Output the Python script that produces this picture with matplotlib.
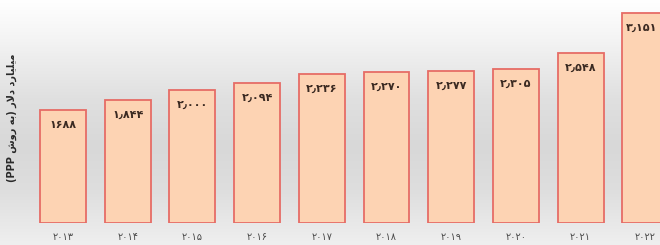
import numpy as np
import matplotlib
matplotlib.use("Agg")
import matplotlib.pyplot as plt
from matplotlib.colors import LinearSegmentedColormap

# داده‌ها (میلیارد دلار، به روش PPP)
years = ["۲۰۱۳", "۲۰۱۴", "۲۰۱۵", "۲۰۱۶", "۲۰۱۷",
         "۲۰۱۸", "۲۰۱۹", "۲۰۲۰", "۲۰۲۱", "۲۰۲۲"]
values = [1688, 1844, 2000, 2094, 2236, 2270, 2277, 2305, 2548, 3151]
value_labels = ["۱۶۸۸", "۱٫۸۴۴", "۲٫۰۰۰", "۲٫۰۹۴", "۲٫۲۳۶",
                "۲٫۲۷۰", "۲٫۲۷۷", "۲٫۳۰۵", "۲٫۵۴۸", "۳٫۱۵۱"]

# "میلیارد دلار (به روش PPP)" به ترتیب نمایشی با حروف شکل‌یافته
y_label = ("(PPP \uFEB5\uFEED\uFEAD \uFEEA\uFE91) "
           "\uFEAD\uFEFB\uFEA9 "
           "\uFEA9\uFEAD\uFE8E\uFEF4\uFEE0\uFEF4\uFEE3")

plt.rcParams['font.family'] = ['DejaVu Sans']

fig = plt.figure(figsize=(6.6, 2.45), dpi=100)

# پس‌زمینه با گرادیان خاکستری (پایین به بالا)
bg = fig.add_axes([0, 0, 1, 1], zorder=0)
bg_cmap = LinearSegmentedColormap.from_list(
    "bg", [(0.0, "#efefef"), (0.22, "#dedede"), (0.40, "#d8d8d8"),
           (0.60, "#e0e0e0"), (0.84, "#f4f4f4"), (1.0, "#ffffff")])
grad = np.linspace(0, 1, 256).reshape(-1, 1)
bg.imshow(grad, aspect="auto", cmap=bg_cmap, origin="lower",
          extent=[0, 1, 0, 1])
bg.set_xlim(0, 1)
bg.set_ylim(0, 1)
bg.set_axis_off()

ax = fig.add_axes([0, 22 / 245, 1, 223 / 245], zorder=1)
ax.patch.set_alpha(0)
x = np.arange(len(values))
ax.bar(x, values, width=0.71, color="#fdd3b3", edgecolor="#e66c66",
       linewidth=1.3, zorder=2)

for xi, v, lab in zip(x, values, value_labels):
    if xi == len(values) - 1:
        # آخرین ستون در لبه‌ی تصویر بریده شده است
        ax.text(9.19, v - 150, lab, ha="right", va="top", fontsize=8,
                fontweight="bold", color="#3b2a22", zorder=3)
    else:
        ax.text(xi, v - 150, lab, ha="center", va="top", fontsize=8,
                fontweight="bold", color="#3b2a22", zorder=3)

ax.set_xlim(-0.974, 9.227)
ax.set_ylim(0, 3344)
ax.set_axis_off()

for xi, yr in zip(x, years):
    fig.text((63 + 64.7 * xi) / 660, 1 - 237 / 245, yr, ha="center",
             va="center", fontsize=7, color="#4a4a4a")

fig.text(12 / 660, 1 - 118 / 245, y_label, rotation=90, ha="center",
         va="center", fontsize=7, fontweight="bold", color="#2a2a2a")

fig.savefig("out.png", dpi=100)
